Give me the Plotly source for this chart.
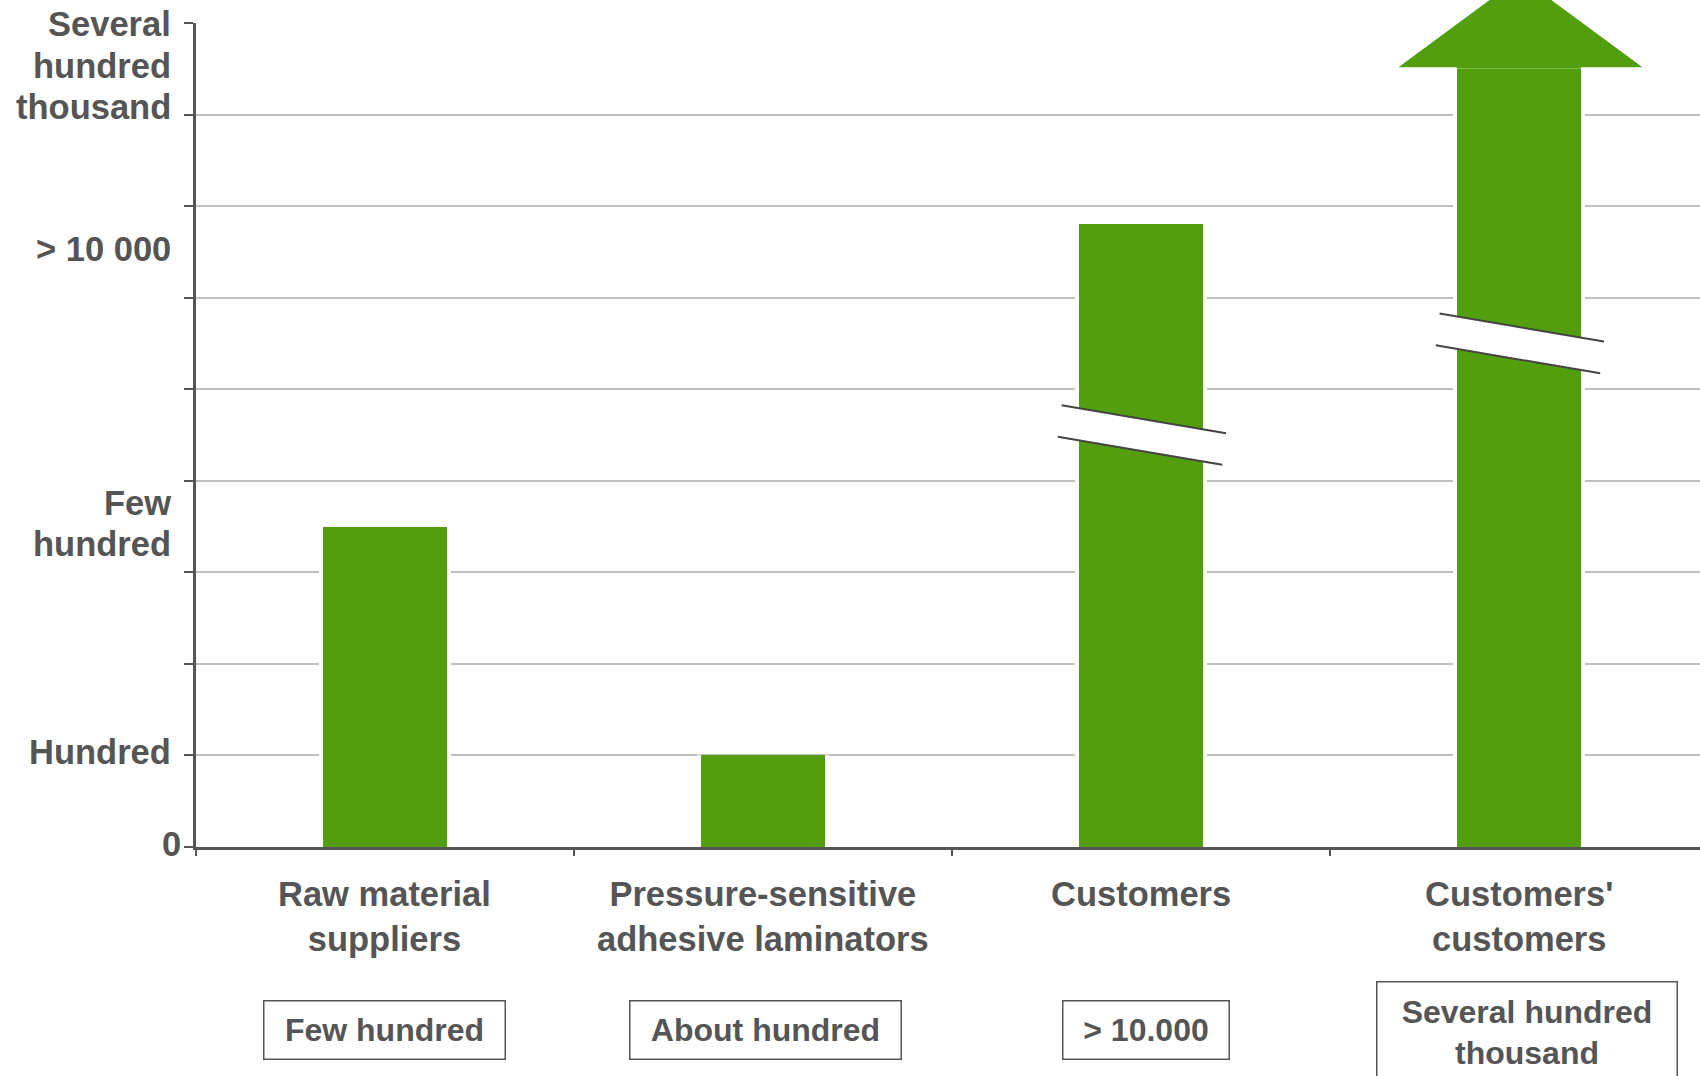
import plotly.graph_objects as go

# ---- data -------------------------------------------------------------
categories = [
    "Raw material<br>suppliers",
    "Pressure-sensitive<br>adhesive laminators",
    "Customers",
    "Customers'<br>customers",
]
bar_values = [3.5, 1.0, 6.8, 8.5]
count_labels = ["Few hundred", "About hundred", "> 10.000", "Several hundred<br>thousand"]

y_label_values = [0, 1, 3.5, 6.5, 8.5]
y_label_texts = ["0", "Hundred", "Few<br>hundred", "> 10 000", "Several<br>hundred<br>thousand"]

# level at which each bar is cut by an axis-break mark (None = no break)
break_levels = [None, None, 4.5, 5.5]
# the last stage is open-ended and gets an arrow head on top
arrow_index = 3
arrow_tip = 9.52

Y_MAX = 9

# ---- styling ----------------------------------------------------------
GREEN = "#529E0E"
TEXT = "#555555"
AXIS = "#555555"
GRID = "#C0C0C0"
FONT = "Liberation Sans, Arial, sans-serif"
BAR_W = 0.329
HALO_W = 0.351
HEAD_HALF = 0.335
Y_LINE_STEP = 41.7

box_widths = [240, 270, 165, 299]
box_heights = [57, 57, 57, 100]
box_shift_x = [0, 3, 5, 8]
box_shift_y = [-153, -153, -153, -134]

x_pos = list(range(len(categories)))

fig = go.Figure()
# white halo keeps the gridlines from touching the bars
fig.add_trace(go.Bar(
    x=x_pos, y=bar_values, width=HALO_W,
    marker=dict(color="white", line=dict(width=0)),
    hoverinfo="skip", showlegend=False,
))
fig.add_trace(go.Bar(
    x=x_pos, y=bar_values, width=BAR_W,
    marker=dict(color=GREEN, line=dict(width=0)),
    hoverinfo="skip", showlegend=False,
))

shapes = []

# axis-break marks: white band between two slanted dark lines
for i, lvl in enumerate(break_levels):
    if lvl is None:
        continue
    xl, xr = i - 0.21, i + 0.225
    gap, tilt = 0.173, 0.153
    shapes.append(dict(
        type="path", xref="x", yref="y", layer="above",
        path=(f"M {xl},{lvl + gap + tilt} L {xr},{lvl + gap - tilt} "
              f"L {xr - 0.01},{lvl - gap - tilt} L {xl - 0.01},{lvl - gap + tilt} Z"),
        fillcolor="white", line=dict(width=0),
    ))
    shapes.append(dict(type="line", xref="x", yref="y", layer="above",
                       x0=xl, y0=lvl + gap + tilt, x1=xr, y1=lvl + gap - tilt,
                       line=dict(color="#444444", width=2)))
    shapes.append(dict(type="line", xref="x", yref="y", layer="above",
                       x0=xl - 0.01, y0=lvl - gap + tilt, x1=xr - 0.01, y1=lvl - gap - tilt,
                       line=dict(color="#444444", width=2)))

# arrow head on the open-ended bar (paper y so it may run past the top)
c = arrow_index
base = bar_values[c] / Y_MAX
tip = arrow_tip / Y_MAX
sh = BAR_W / 2
hc = c + 0.004
shapes.append(dict(
    type="path", xref="x", yref="paper", layer="above",
    path=(f"M {c - sh},{base} L {hc - HEAD_HALF},{base} L {hc},{tip} "
          f"L {hc + HEAD_HALF},{base} L {c + sh},{base}"),
    fillcolor=GREEN, line=dict(color="white", width=3),
))

annotations = []

# y-axis wording, one annotation per line
for v, t in zip(y_label_values, y_label_texts):
    lines = t.split("<br>")
    n = len(lines)
    for k, line in enumerate(lines):
        annotations.append(dict(
            xref="paper", x=0, yref="y", y=v, xanchor="right", yanchor="middle",
            xshift=-13 if v == 0 else -23,
            yshift=3 + ((n - 1) / 2 - k) * Y_LINE_STEP,
            align="right", showarrow=False, text=line,
            font=dict(family=FONT, size=34.5, color=TEXT, weight="bold"),
        ))

# category names under the axis
for i, t in enumerate(categories):
    annotations.append(dict(
        xref="x", x=i, yref="paper", y=0, xanchor="center", yanchor="top",
        yshift=-26, align="center", showarrow=False, text=t,
        font=dict(family=FONT, size=34.5, color=TEXT, weight="bold"),
    ))

# boxed counts
for i, t in enumerate(count_labels):
    annotations.append(dict(
        xref="x", x=i, yref="paper", y=0, xanchor="center", yanchor="top",
        xshift=box_shift_x[i], yshift=box_shift_y[i],
        width=box_widths[i], height=box_heights[i], borderpad=0,
        bordercolor="#555555", borderwidth=1.5, bgcolor="white",
        align="center", valign="middle", showarrow=False, text=t,
        font=dict(family=FONT, size=32, color=TEXT, weight="bold"),
    ))

fig.update_layout(
    width=1700, height=1076,
    margin=dict(l=196, r=0, t=23, b=229, pad=0),
    paper_bgcolor="white", plot_bgcolor="white",
    barmode="overlay", bargap=0, showlegend=False,
    shapes=shapes, annotations=annotations,
    xaxis=dict(
        range=[-0.5, 3.479], showgrid=False, zeroline=False,
        showline=True, linecolor=AXIS, linewidth=2.5,
        tickmode="array", tickvals=[-0.5, 0.5, 1.5, 2.5, 3.5],
        ticks="outside", ticklen=6, tickwidth=2, tickcolor=AXIS,
        showticklabels=False, fixedrange=True,
    ),
    yaxis=dict(
        range=[0, Y_MAX], tick0=0, dtick=1, showgrid=True,
        gridcolor=GRID, gridwidth=2, zeroline=False,
        showline=True, linecolor=AXIS, linewidth=2.5,
        ticks="outside", ticklen=9, tickwidth=2, tickcolor=AXIS,
        showticklabels=False, fixedrange=True,
    ),
)

fig.write_html("out.html", config={"displayModeBar": False})
